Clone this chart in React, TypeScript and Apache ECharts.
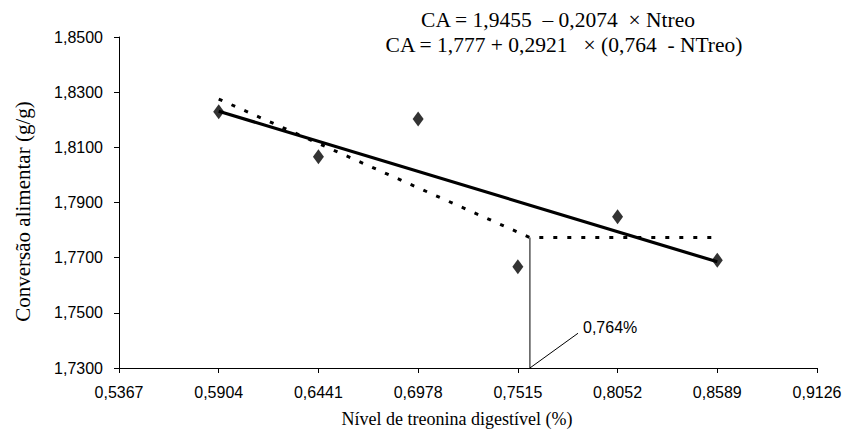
import React, { useEffect, useRef } from "react";
import * as echarts from "echarts";

const xTicks = [0.5367, 0.5904, 0.6441, 0.6978, 0.7515, 0.8052, 0.8589, 0.9126];
const yTicks = [1.73, 1.75, 1.77, 1.79, 1.81, 1.83, 1.85];
const threonineLevels = [0.5904, 0.6441, 0.6978, 0.7515, 0.8052, 0.8589];
const feedConversion = [1.8229, 1.8066, 1.8203, 1.7667, 1.7848, 1.7691];
const linearFitX = [0.5904, 0.8589];
const linearFitY = [1.8231, 1.7685];
const lrpFitX = [0.5904, 0.758, 0.8589];
const lrpFitY = [1.8275, 1.7773, 1.7773];
const breakX = [0.758, 0.758];
const breakY = [1.73, 1.7773];
const leaderX = [0.758, 0.7839];
const leaderY = [1.73, 1.7426];
const equationLine1 = "CA = 1,9455  \u2013 0,2074  \u00d7 Ntreo";
const equationLine2 = "CA = 1,777 + 0,2921   \u00d7 (0,764  - NTreo)";
const breakLabel = "0,764%";
const xName = "Nível de treonina digestível (%)";
const yName = "Conversão alimentar (g/g)";

const zip = (xs: number[], ys: number[]) => xs.map((x, i) => [x, ys[i]]);
const fmt = (v: number) => v.toFixed(4).replace(".", ",");

export default function App() {
  const ref = useRef<HTMLDivElement>(null);
  useEffect(() => {
    document.body.style.margin = "0";
    if (!ref.current) return;
    const chart = echarts.init(ref.current, undefined, { renderer: "svg" });
    const serif = "'Liberation Serif', 'Times New Roman', serif";
    const sans = "'Liberation Sans', Arial, sans-serif";
    chart.setOption({
      animation: false,
      backgroundColor: "#fff",
      grid: { left: 119, right: 30, top: 37, bottom: 69, outerBoundsMode: "none" },
      xAxis: {
        type: "value",
        min: 0.5367,
        max: 0.9126,
        name: xName,
        nameLocation: "middle",
        nameGap: 42,
        nameTextStyle: { fontFamily: serif, fontSize: 18, color: "#000", padding: [0, 22, 0, 0] },
        axisLine: { lineStyle: { color: "#000", width: 1 } },
        axisTick: { show: true, length: 5, customValues: xTicks, lineStyle: { color: "#000" } },
        axisLabel: { customValues: xTicks, formatter: fmt, fontFamily: sans, fontSize: 16, color: "#000", margin: 16 },
        splitLine: { show: false },
      },
      yAxis: {
        type: "value",
        min: 1.73,
        max: 1.85,
        name: yName,
        nameLocation: "middle",
        nameGap: 86,
        nameRotate: 90,
        nameTextStyle: { fontFamily: serif, fontSize: 21, color: "#000", padding: [0, 18, 0, 0] },
        axisLine: { show: true, lineStyle: { color: "#000", width: 1 } },
        axisTick: { show: true, length: 5, customValues: yTicks, lineStyle: { color: "#000" } },
        axisLabel: { customValues: yTicks, formatter: fmt, fontFamily: sans, fontSize: 16, color: "#000", margin: 16 },
        splitLine: { show: false },
      },
      series: [
        {
          type: "line",
          data: zip(lrpFitX, lrpFitY),
          symbol: "none",
          lineStyle: { color: "#000", width: 3, type: [4, 10] },
          z: 2,
        },
        {
          type: "line",
          data: zip(linearFitX, linearFitY),
          symbol: "none",
          lineStyle: { color: "#000", width: 3.2 },
          z: 3,
        },
        {
          type: "line",
          data: zip(breakX, breakY),
          symbol: "none",
          lineStyle: { color: "#000", width: 1 },
          z: 2,
        },
        {
          type: "line",
          data: zip(leaderX, leaderY),
          symbol: "none",
          lineStyle: { color: "#000", width: 1 },
          z: 2,
        },
        {
          type: "scatter",
          data: zip(threonineLevels, feedConversion),
          symbol: "diamond",
          symbolSize: [11, 15],
          itemStyle: { color: "#000" },
          z: 4,
        },
      ],
      graphic: [
        {
          type: "text",
          x: 558,
          y: 20,
          style: { text: equationLine1, fontFamily: serif, fontSize: 21.5, fill: "#000", textAlign: "center", textVerticalAlign: "middle" },
        },
        {
          type: "text",
          x: 564,
          y: 45,
          style: { text: equationLine2, fontFamily: serif, fontSize: 21.5, fill: "#000", textAlign: "center", textVerticalAlign: "middle" },
        },
        {
          type: "text",
          x: 583,
          y: 327,
          style: { text: breakLabel, fontFamily: sans, fontSize: 16, fill: "#000", textAlign: "left", textVerticalAlign: "middle" },
        },
      ],
    });
    return () => chart.dispose();
  }, []);
  return <div ref={ref} style={{ width: 847, height: 437 }} />;
}
